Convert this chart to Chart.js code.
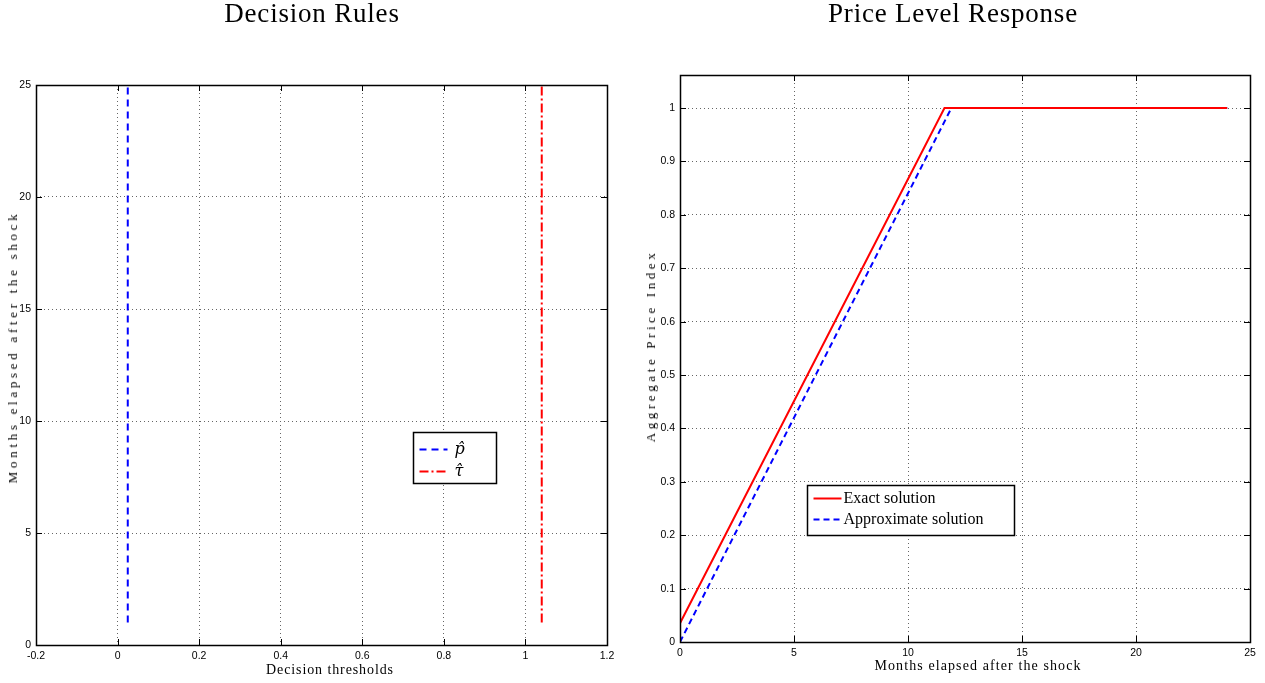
<!DOCTYPE html>
<html>
<head>
<meta charset="utf-8">
<script src="https://cdn.jsdelivr.net/npm/chart.js@4.4.1/dist/chart.umd.min.js"></script>
<style>
  body { margin: 0; background: #fff; width: 1265px; height: 683px; overflow: hidden; position: relative; }
  .box { position: absolute; top: 0; height: 683px; }
  .txt { position: absolute; font-family: "Liberation Serif", serif; color: #000; white-space: nowrap; }
  .title { font-size: 27px; letter-spacing: 0.8px; top: -2px; transform: translateX(-50%); }
  .xlab { font-size: 14px; letter-spacing: 0.9px; transform: translateX(-50%); }
  .ylab { font-size: 13px; letter-spacing: 3.7px; transform: translate(-50%, -50%) rotate(-90deg); }
</style>
</head>
<body>
<div class="box" style="left:0;width:632px"><canvas id="left"></canvas></div>
<div class="box" style="left:632px;width:633px"><canvas id="right"></canvas></div>

<div class="txt title" style="left:312px">Decision Rules</div>
<div class="txt title" style="left:953px">Price Level Response</div>
<div class="txt xlab" style="left:330px;top:662px">Decision thresholds</div>
<div class="txt xlab" style="left:978px;top:658px;letter-spacing:1.1px">Months elapsed after the shock</div>
<div class="txt ylab" style="left:13px;top:347px">Months elapsed after the shock</div>
<div class="txt ylab" style="left:651px;top:346px;letter-spacing:3.6px">Aggregate Price Index</div>

<script>
// left panel: decision thresholds over months
const monthsL = [1, 25];
const pHat = [0.025, 0.025];
const tauHat = [1.04, 1.04];
const leftXTicks = [-0.2, 0, 0.2, 0.4, 0.6, 0.8, 1, 1.2];
const leftYTicks = [0, 5, 10, 15, 20, 25];

// right panel: price level response
const exactX = [0, 11.6, 24];
const exactY = [0.035, 1, 1];
const approxX = [0, 11.9, 24];
const approxY = [0, 1, 1];
const rightXTicks = [0, 5, 10, 15, 20, 25];
const rightYTicks = [0, 0.1, 0.2, 0.3, 0.4, 0.5, 0.6, 0.7, 0.8, 0.9, 1];

const tickFont = { family: "Liberation Sans, Arial, sans-serif", size: 10.5 };

function pts(xs, ys) {
    return xs.map((x, i) => ({ x: x, y: ys[i] }));
}

// matlab style box with inward ticks
const boxPlugin = {
    id: 'box',
    afterDraw(chart) {
        const ctx = chart.ctx;
        const a = chart.chartArea;
        const xs = chart.scales.x, ys = chart.scales.y;
        ctx.save();
        ctx.strokeStyle = '#000';
        ctx.lineWidth = 1;
        ctx.setLineDash([]);
        ctx.beginPath();
        xs.ticks.forEach(t => {
            const px = Math.round(xs.getPixelForValue(t.value)) + 0.5;
            ctx.moveTo(px, a.bottom); ctx.lineTo(px, a.bottom - 6);
            ctx.moveTo(px, a.top); ctx.lineTo(px, a.top + 6);
        });
        ys.ticks.forEach(t => {
            const py = Math.round(ys.getPixelForValue(t.value)) + 0.5;
            ctx.moveTo(a.left, py); ctx.lineTo(a.left + 6, py);
            ctx.moveTo(a.right, py); ctx.lineTo(a.right - 6, py);
        });
        ctx.stroke();
        ctx.lineWidth = 1.5;
        ctx.strokeRect(Math.round(a.left) + 0.5, Math.round(a.top) + 0.5,
            Math.round(a.right - a.left), Math.round(a.bottom - a.top));
        ctx.restore();
    }
};

// boxed legend at a given spot inside the axes
const boxLegend = {
    id: 'boxLegend',
    afterDraw(chart, args, opts) {
        const ctx = chart.ctx;
        ctx.save();
        ctx.fillStyle = '#fff';
        ctx.fillRect(opts.x, opts.y, opts.w, opts.h);
        ctx.strokeStyle = '#000';
        ctx.lineWidth = 1.5;
        ctx.strokeRect(opts.x, opts.y, opts.w, opts.h);
        chart.data.datasets.forEach((ds, i) => {
            const ly = opts.y + opts.first + i * opts.step;
            ctx.strokeStyle = ds.borderColor;
            ctx.lineWidth = ds.borderWidth;
            ctx.setLineDash(ds.borderDash || []);
            ctx.beginPath();
            ctx.moveTo(opts.x + 6, ly);
            ctx.lineTo(opts.x + 34, ly);
            ctx.stroke();
            ctx.setLineDash([]);
            ctx.fillStyle = '#000';
            ctx.font = opts.font;
            ctx.textBaseline = 'middle';
            ctx.fillText(ds.label, opts.x + 36 + (opts.gap || 0), ly);
        });
        ctx.restore();
    }
};

function axisOpts(min, max, ticksArr, fit, fmt) {
    return {
        type: 'linear', min: min, max: max,
        afterBuildTicks: s => { s.ticks = ticksArr.map(v => ({ value: v })); },
        afterFit: fit,
        border: { display: false, dash: [1, 3] },
        grid: {
            color: ctx => (ctx.tick && (ctx.tick.value === min || ctx.tick.value === max)) ? 'rgba(0,0,0,0)' : '#666',
            lineWidth: 1, tickLength: 0, drawTicks: false
        },
        ticks: {
            color: '#000', font: tickFont, padding: 5, maxRotation: 0, autoSkip: false,
            callback: v => fmt(v)
        }
    };
}

Chart.defaults.animation = false;

new Chart(document.getElementById('left'), {
    type: 'scatter',
    data: {
        datasets: [{
            label: 'p\u0302',
            data: pts(pHat, monthsL),
            showLine: true, pointRadius: 0,
            borderColor: '#0000ff', borderWidth: 2, borderDash: [7, 5]
        }, {
            label: '\u03c4\u0302',
            data: pts(tauHat, monthsL),
            showLine: true, pointRadius: 0,
            borderColor: '#ff0000', borderWidth: 2, borderDash: [9, 3, 2, 3]
        }]
    },
    options: {
        responsive: true, maintainAspectRatio: false,
        layout: { padding: { top: 85, right: 25, left: 0, bottom: 0 } },
        scales: {
            x: axisOpts(-0.2, 1.2, leftXTicks, s => { s.height = 38; }, v => String(Math.round(v * 10) / 10)),
            y: axisOpts(0, 25, leftYTicks, s => { s.width = 36; }, v => String(v))
        },
        plugins: {
            legend: { display: false },
            tooltip: { enabled: false },
            boxLegend: { x: 413.5, y: 432.5, w: 83, h: 51, first: 17, step: 22, gap: 5,
                font: 'italic 16px "DejaVu Serif", serif' }
        }
    },
    plugins: [boxPlugin, boxLegend]
});

new Chart(document.getElementById('right'), {
    type: 'scatter',
    data: {
        datasets: [{
            label: 'Exact solution',
            data: pts(exactX, exactY),
            showLine: true, pointRadius: 0,
            borderColor: '#ff0000', borderWidth: 2
        }, {
            label: 'Approximate solution',
            data: pts(approxX, approxY),
            showLine: true, pointRadius: 0,
            borderColor: '#0000ff', borderWidth: 2, borderDash: [6, 4]
        }]
    },
    options: {
        responsive: true, maintainAspectRatio: false,
        layout: { padding: { top: 75, right: 15, left: 0, bottom: 0 } },
        scales: {
            x: axisOpts(0, 25, rightXTicks, s => { s.height = 41; }, v => String(v)),
            y: axisOpts(0, 1.062, rightYTicks, s => { s.width = 48; }, v => String(Math.round(v * 10) / 10))
        },
        plugins: {
            legend: { display: false },
            tooltip: { enabled: false },
            boxLegend: { x: 175.5, y: 485.5, w: 207, h: 50, first: 13, step: 21, gap: 0,
                font: '16px "Liberation Serif", serif' }
        }
    },
    plugins: [boxPlugin, boxLegend]
});
</script>
</body>
</html>
